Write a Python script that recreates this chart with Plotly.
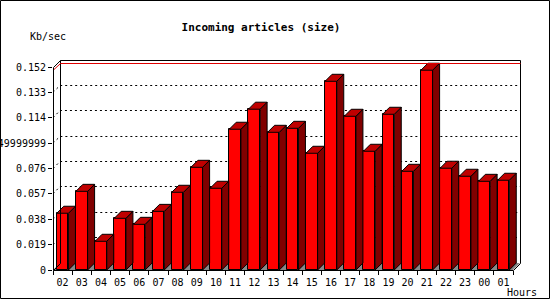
import plotly.graph_objects as go

# ---------------- data ----------------
hours = ["02", "03", "04", "05", "06", "07", "08", "09", "10", "11", "12", "13",
         "14", "15", "16", "17", "18", "19", "20", "21", "22", "23", "00", "01"]
kbps = [0.0425, 0.0589, 0.0215, 0.0387, 0.0342, 0.0439, 0.0582, 0.0769, 0.0612,
        0.1054, 0.1204, 0.1031, 0.1061, 0.0874, 0.1413, 0.1151, 0.0889, 0.1166,
        0.0739, 0.1496, 0.0762, 0.0702, 0.0664, 0.0672]
ytick_vals = [0, 0.019, 0.038, 0.057, 0.076, 0.095, 0.114, 0.133, 0.152]
ytick_text = ["0", "0.019", "0.038", "0.057", "0.076", "0.0949999999",
              "0.114", "0.133", "0.152"]
title_text = "Incoming articles (size)"
y_title = "Kb/sec"
x_title = "Hours"

# ---------------- geometry ----------------
W, H = 550, 300
L, T = 53, 60          # plot area left / top (px)
PR, PB = 520, 270      # plot area right / bottom (px)
pw, ph = PR - L, PB - T
ncat = len(hours)
FRONT_W = 460          # width of the front x axis (px)
FRONT_TOP = 67         # px of the top tick on the front y axis
D = 7                  # 3D depth (px)
cat_px = FRONT_W / ncat
yscale = (PB - FRONT_TOP) / ytick_vals[-1]
dx = D / cat_px
dy = D / yscale
xrange_ = [-0.5, -0.5 + pw / cat_px]
yrange_ = [0, ph / yscale]
bw = 0.61

FONT = "DejaVu Sans Mono"


def pxx(p):
    return (p - L) / pw


def pxy(p):
    return (PB - p) / ph


def snap_y(v):
    """data value -> data value at the centre of the nearest pixel row"""
    p = PB - v * yscale
    p = round(p - 0.5) + 0.5
    return (PB - p) / yscale


x_idx = list(range(ncat))

fig = go.Figure()

# front faces
fig.add_trace(go.Bar(
    x=x_idx, y=kbps, width=bw,
    marker=dict(color="#FF0000", line=dict(color="black", width=1)),
    hoverinfo="skip", showlegend=False,
))

# side faces
sx, sy = [], []
for i, v in zip(x_idx, kbps):
    xr = i + bw / 2
    sx += [xr, xr + dx, xr + dx, xr, xr, None]
    sy += [0, dy, v + dy, v, 0, None]
fig.add_trace(go.Scatter(
    x=sx, y=sy, mode="lines", fill="toself", fillcolor="#800000",
    line=dict(color="black", width=1), hoverinfo="skip", showlegend=False,
))

# top faces
tx, ty = [], []
for i, v in zip(x_idx, kbps):
    xl, xr = i - bw / 2, i + bw / 2
    tx += [xl, xl + dx, xr + dx, xr, xl, None]
    ty += [v, v + dy, v + dy, v, v, None]
fig.add_trace(go.Scatter(
    x=tx, y=ty, mode="lines", fill="toself", fillcolor="#C00000",
    line=dict(color="black", width=1), hoverinfo="skip", showlegend=False,
))

shapes = []

# floor (grey)
shapes.append(dict(
    type="path", xref="x", yref="y", layer="below",
    path=f"M {-0.5},0 L {ncat - 0.5},0 L {ncat - 0.5 + dx},{dy} L {-0.5 + dx},{dy} Z",
    fillcolor="#888888", line=dict(width=0),
))

# dotted grid lines on the back wall
for v in ytick_vals[1:-1]:
    yb = snap_y(v + dy)
    shapes.append(dict(
        type="path", xref="x", yref="y", layer="below",
        path=f"M {-0.5},{v} L {-0.5 + dx},{yb} L {xrange_[1]},{yb}",
        line=dict(color="black", width=1, dash="2px,3px"),
    ))


def seg(x0, y0, x1, y1, color="black"):
    shapes.append(dict(
        type="line", xref="paper", yref="paper",
        x0=pxx(x0 + 0.5), y0=pxy(y0 + 0.5), x1=pxx(x1 + 0.5), y1=pxy(y1 + 0.5),
        line=dict(color=color, width=1), layer="above",
    ))


# frame: front axes
seg(L, FRONT_TOP, L, PB)
seg(L, PB, L + FRONT_W, PB)
# back wall
seg(L + D, T, PR, T)
seg(PR, T, PR, PB - D)
seg(L + D, T, L + D, PB - D)
# connecting diagonals
seg(L, FRONT_TOP, L + D, T)
seg(L + FRONT_W, PB, PR, PB - D)
seg(L, PB, L + D, PB - D)
# red line near the top
shapes.append(dict(
    type="path", xref="paper", yref="paper", layer="above",
    path=(f"M {pxx(L + 1)},{pxy(FRONT_TOP + 2.5)} L {pxx(L + D + 0.5)},{pxy(T + 3.5)} "
          f"L {pxx(PR + 0.5)},{pxy(T + 3.5)}"),
    line=dict(color="#E00000", width=1),
))
# outer border
shapes.append(dict(
    type="rect", xref="paper", yref="paper", layer="above",
    x0=pxx(0.5), y0=pxy(0.5), x1=pxx(W - 0.5), y1=pxy(H - 1.5),
    line=dict(color="black", width=1),
))

fig.update_layout(
    width=W, height=H,
    margin=dict(l=L, r=W - PR, t=T, b=H - PB, pad=0, autoexpand=False),
    paper_bgcolor="white", plot_bgcolor="white",
    showlegend=False,
    bargap=0,
    font=dict(family=FONT, size=10, color="black"),
    title=dict(text=title_text, x=261 / W, xref="container", xanchor="center",
               y=1 - 27 / H, yref="container", yanchor="middle",
               font=dict(family=FONT, size=11, color="black", weight="bold")),
    xaxis=dict(
        range=xrange_, tickmode="array", tickvals=x_idx, ticktext=hours,
        ticks="", showgrid=False, zeroline=False, showline=False,
        automargin=False, ticklabelstandoff=5,
        tickfont=dict(family=FONT, size=10, color="black"),
        minor=dict(tickmode="array", tickvals=[i - 0.5 for i in range(ncat + 1)],
                   ticks="outside", ticklen=4, tickcolor="black", tickwidth=1,
                   showgrid=False),
        fixedrange=True,
    ),
    yaxis=dict(
        range=yrange_, tickmode="array", tickvals=ytick_vals, ticktext=ytick_text,
        ticks="outside", ticklen=4, tickcolor="black", tickwidth=1,
        showgrid=False, zeroline=False, showline=False,
        automargin=False,
        tickfont=dict(family=FONT, size=10, color="black"),
        fixedrange=True,
    ),
    shapes=shapes,
    annotations=[
        dict(text=y_title, xref="paper", yref="paper", x=pxx(28), y=pxy(37),
             xanchor="left", yanchor="middle", showarrow=False,
             font=dict(family=FONT, size=10, color="black")),
        dict(text=x_title, xref="paper", yref="paper", x=pxx(505), y=pxy(292),
             xanchor="left", yanchor="middle", showarrow=False,
             font=dict(family=FONT, size=10, color="black")),
    ],
)

fig.write_html("out.html")
